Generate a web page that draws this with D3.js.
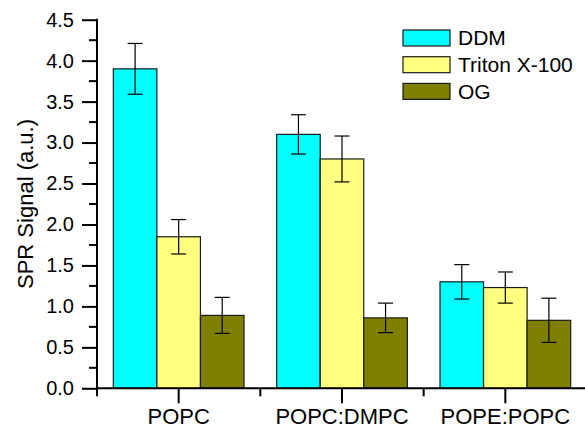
<!DOCTYPE html>
<html>
<head>
<meta charset="utf-8">
<script src="https://cdn.jsdelivr.net/npm/d3@7"></script>
<style>
  body { margin: 0; background: #fff; }
  svg { display: block; font-family: Arial, "Liberation Sans", sans-serif; }
</style>
</head>
<body>
<svg id="chart" width="585" height="429"></svg>
<script>
// data
var categories = ["POPC", "POPC:DMPC", "POPE:POPC"];
var seriesNames = ["DDM", "Triton X-100", "OG"];
var ddmValues = [3.90, 3.10, 1.30];
var ddmErrors = [0.31, 0.24, 0.21];
var tritonValues = [1.85, 2.80, 1.23];
var tritonErrors = [0.21, 0.28, 0.19];
var ogValues = [0.89, 0.86, 0.83];
var ogErrors = [0.22, 0.18, 0.27];
var yTicks = [0, 0.5, 1, 1.5, 2, 2.5, 3, 3.5, 4, 4.5];

var colors = ["#00FFFF", "#FFFF80", "#808000"];
var seriesValues = [ddmValues, tritonValues, ogValues];
var seriesErrors = [ddmErrors, tritonErrors, ogErrors];

var svg = d3.select("#chart");
var plotLeft = 97, plotRight = 587, plotTop = 19.7, plotBottom = 388.3;

var x = d3.scaleBand().domain(categories).range([plotLeft, plotRight]).paddingInner(0.2).paddingOuter(0.1);
var xs = d3.scaleBand().domain(seriesNames).range([0, x.bandwidth()]);
var y = d3.scaleLinear().domain([0, 4.5]).range([plotBottom, plotTop]);

// bars
var rows = [];
categories.forEach(function(c, i) {
    seriesNames.forEach(function(s, j) {
        rows.push({cat: c, name: s, v: seriesValues[j][i], e: seriesErrors[j][i], color: colors[j]});
    });
});

svg.append("g").selectAll("rect").data(rows).enter().append("rect")
    .attr("x", function(d) { return x(d.cat) + xs(d.name); })
    .attr("y", function(d) { return y(d.v); })
    .attr("width", xs.bandwidth())
    .attr("height", function(d) { return plotBottom - y(d.v); })
    .attr("fill", function(d) { return d.color; })
    .attr("stroke", "#1a1a1a")
    .attr("stroke-width", 1.2);

// error bars
var eb = svg.append("g").attr("stroke", "#000").attr("stroke-width", 1.2);
rows.forEach(function(d) {
    var cx = x(d.cat) + xs(d.name) + xs.bandwidth() / 2;
    eb.append("line").attr("x1", cx).attr("x2", cx).attr("y1", y(d.v + d.e)).attr("y2", y(d.v - d.e));
    eb.append("line").attr("x1", cx - 7.5).attr("x2", cx + 7.5).attr("y1", y(d.v + d.e)).attr("y2", y(d.v + d.e));
    eb.append("line").attr("x1", cx - 7.5).attr("x2", cx + 7.5).attr("y1", y(d.v - d.e)).attr("y2", y(d.v - d.e));
});

// y axis
var yAxisG = svg.append("g").attr("transform", "translate(" + plotLeft + ",0)")
    .call(d3.axisLeft(y).tickValues(yTicks).tickFormat(d3.format(".1f")).tickSize(15).tickPadding(8));
yAxisG.select(".domain").attr("stroke", "#000").attr("stroke-width", 2).attr("d", "M0," + (plotTop - 1) + "V" + plotBottom);
yAxisG.selectAll(".tick line").attr("stroke-width", 2);
yAxisG.selectAll(".tick text").attr("font-size", 20).attr("fill", "#000");
var minor = yTicks.slice(0, -1).map(function(t) { return t + 0.25; });
yAxisG.selectAll(".minor").data(minor).enter().append("line")
    .attr("x1", -8).attr("x2", 0)
    .attr("y1", function(d) { return y(d); }).attr("y2", function(d) { return y(d); })
    .attr("stroke", "#000").attr("stroke-width", 2);

// x axis
var xAxisG = svg.append("g").attr("transform", "translate(0," + plotBottom + ")")
    .call(d3.axisBottom(x).tickSize(15).tickPadding(5));
xAxisG.select(".domain").attr("stroke", "#000").attr("stroke-width", 2).attr("d", "M" + (plotLeft - 1) + ",0H" + plotRight);
xAxisG.selectAll(".tick line").attr("stroke-width", 2);
xAxisG.selectAll(".tick text").attr("font-size", 22).attr("fill", "#000");
var bounds = [plotLeft].concat(categories.map(function(c) { return x(c) + x.bandwidth() + x.step() * 0.1; }));
xAxisG.selectAll(".minor").data(bounds).enter().append("line")
    .attr("x1", function(d) { return d; }).attr("x2", function(d) { return d; })
    .attr("y1", 0).attr("y2", 8)
    .attr("stroke", "#000").attr("stroke-width", 2);

// y title
svg.append("text")
    .attr("transform", "translate(33,204) rotate(-90)")
    .attr("text-anchor", "middle")
    .attr("font-size", 22)
    .text("SPR Signal (a.u.)");

// legend
var legend = svg.append("g").attr("transform", "translate(403,30)");
seriesNames.forEach(function(s, i) {
    var g = legend.append("g").attr("transform", "translate(0," + (i * 26.7) + ")");
    g.append("rect").attr("width", 47).attr("height", 16).attr("fill", colors[i]).attr("stroke", "#1a1a1a").attr("stroke-width", 1.2);
    g.append("text").attr("x", 55).attr("y", 8).attr("dy", "0.35em").attr("font-size", 21).text(s);
});
</script>
</body>
</html>
